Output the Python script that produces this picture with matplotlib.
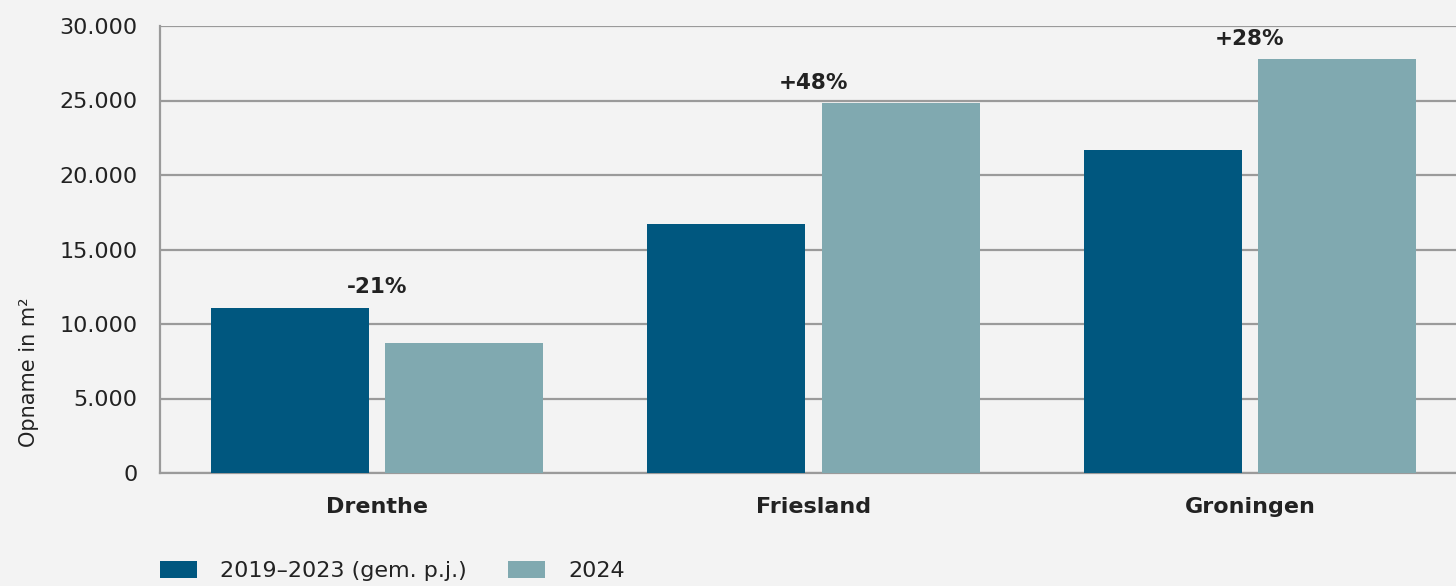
import numpy as np
import matplotlib.pyplot as plt
from matplotlib.ticker import FuncFormatter

# data
provinces = ["Drenthe", "Friesland", "Groningen"]
avg_2019_2023 = [11100, 16700, 21700]
y2024 = [8750, 24800, 27800]
changes = ["-21%", "+48%", "+28%"]
series_names = ["2019\u20132023 (gem. p.j.)", "2024"]

dark = "#00577f"
light = "#80a9b0"
bg = "#f3f3f3"
grid_c = "#9a9a9a"
txt = "#222222"

plt.rcParams['font.family'] = ['DejaVu Sans']

fig = plt.figure(figsize=(14.56, 5.86), dpi=100, facecolor=bg)
ax = fig.add_axes([160/1456, 1-473/586, 1-160/1456, 447/586])
ax.set_facecolor(bg)

x = np.arange(len(provinces))
w = 0.362
ax.bar(x - 0.2, avg_2019_2023, w, color=dark, label=series_names[0], zorder=3)
ax.bar(x + 0.2, y2024, w, color=light, label=series_names[1], zorder=3)

#change labels above the tallest bar of each group
for i, lab in enumerate(changes):
    top = max(avg_2019_2023[i], y2024[i])
    ax.text(x[i], top + 950, lab, ha='center', va='baseline', fontsize=15.5,
            fontweight='bold', color=txt)

ax.set_xlim(-0.497, 2.472)
ax.set_ylim(0, 30000)
ax.set_yticks(np.arange(0, 30001, 5000))
ax.yaxis.set_major_formatter(FuncFormatter(lambda v, p: f"{int(v):,}".replace(",", ".")))
ax.grid(axis='y', color=grid_c, linewidth=1.6, zorder=1)
ax.set_axisbelow(True)
ax.tick_params(axis='y', length=0, pad=16, labelsize=16, labelcolor=txt)
ax.tick_params(axis='x', length=0, pad=17, labelsize=16, labelcolor=txt)
ax.set_xticks(x)
ax.set_xticklabels(provinces, fontweight='bold')

for s in ['top', 'right']:
    ax.spines[s].set_visible(False)
ax.spines['left'].set_color(grid_c)
ax.spines['left'].set_linewidth(1.6)
ax.spines['bottom'].set_color(grid_c)
ax.spines['bottom'].set_linewidth(1.6)

fig.text(29/1456, 1-372/586, "Opname in m\u00b2", rotation=90, ha='center', va='center',
         fontsize=15, color=txt)

fig.legend(loc='center left', bbox_to_anchor=(151/1456, 1-571/586), ncol=2, frameon=False,
           fontsize=16, handlelength=1.67, handleheight=0.77, handletextpad=1.04,
           columnspacing=1.85, borderaxespad=0, labelcolor=txt)

fig.savefig("out.png", dpi=100, facecolor=bg)
